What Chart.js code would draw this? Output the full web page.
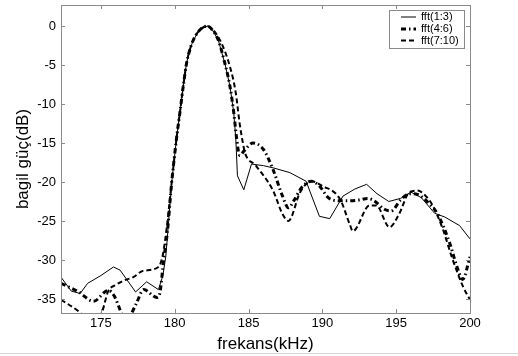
<!DOCTYPE html>
<html>
<head>
<meta charset="utf-8">
<script src="https://cdn.jsdelivr.net/npm/chart.js@4/dist/chart.umd.min.js"></script>
<style>
  html, body { margin: 0; padding: 0; background: #fff; }
  #wrap { width: 518px; height: 356px; }
</style>
</head>
<body>
<div id="wrap"><canvas id="myChart" width="518" height="356"></canvas></div>
<script>
// fft(1:3) - solid
const freq13 = [172.3, 173.0, 173.6, 174.1, 175.0, 175.85, 176.3, 177.35, 178.1, 178.9, 179.2, 179.4, 179.55, 179.8, 180.15, 180.36, 180.58, 180.8, 181.0, 181.26, 181.7, 182.2, 182.55, 182.95, 183.4, 183.74, 184.0, 184.14, 184.25, 184.68, 185.2, 186.0, 186.7, 187.8, 188.9, 189.8, 190.5, 191.4, 192.2, 193.0, 193.7, 194.5, 195.3, 196.0, 196.7, 197.6, 198.3, 199.3, 200.0];
const db13 = [-32.2, -34.0, -34.3, -33.0, -32.0, -30.9, -31.3, -34.1, -32.8, -33.8, -32.0, -29.5, -26.0, -20.0, -14.0, -11.0, -7.7, -4.8, -3.2, -1.8, -0.5, 0, -0.5, -1.8, -4.8, -7.7, -11.1, -14.5, -19.2, -21.0, -17.7, -17.9, -18.2, -18.8, -19.9, -24.4, -24.7, -21.8, -20.9, -20.3, -21.5, -22.5, -22.1, -21.3, -22.0, -24.0, -24.5, -25.6, -27.3];

// fft(4:6) - dash-dot
const freq46 = [172.3, 173.5, 174.5, 175.5, 175.9, 176.4, 176.75, 177.1, 177.4, 177.9, 178.8, 179.0, 179.25, 179.5, 179.8, 180.15, 180.36, 180.58, 180.8, 181.0, 181.26, 181.7, 182.2, 182.55, 182.95, 183.4, 183.74, 184.0, 184.2, 184.4, 184.7, 185.3, 186.0, 186.66, 187.3, 187.7, 188.1, 188.6, 189.26, 189.8, 190.4, 191.2, 191.85, 192.5, 193.06, 193.5, 194.2, 194.66, 195.3, 195.9, 196.45, 197.25, 197.8, 198.6, 199.16, 199.5, 200.0];
const db46 = [-33.0, -34.1, -35.3, -33.9, -34.6, -36.9, -38.5, -36.8, -35.6, -33.8, -34.8, -34.2, -30.0, -26.5, -20.0, -14.0, -11.0, -7.7, -4.8, -3.2, -1.8, -0.5, 0, -0.5, -1.8, -4.8, -7.7, -11.1, -14.5, -16.6, -16.0, -15.0, -15.8, -18.4, -21.8, -23.3, -22.3, -20.7, -19.9, -20.5, -22.0, -22.4, -22.4, -22.3, -22.1, -22.4, -23.5, -23.7, -22.3, -21.5, -21.6, -22.8, -24.1, -27.7, -31.1, -32.5, -29.6];

// fft(7:10) - dashed
const freq710 = [172.3, 173.5, 174.3, 175.05, 175.5, 176.0, 176.6, 177.2, 177.85, 178.9, 179.2, 179.45, 179.8, 180.15, 180.36, 180.58, 180.8, 181.0, 181.26, 181.7, 182.2, 182.6, 183.17, 183.74, 184.14, 184.4, 184.6, 184.75, 185.5, 186.66, 187.3, 187.7, 188.5, 189.26, 190.0, 191.2, 191.85, 192.07, 193.2, 193.65, 194.55, 195.2, 195.9, 196.45, 197.0, 197.47, 198.15, 198.8, 199.5, 200.0];
const db710 = [-35.1, -36.6, -38.0, -36.8, -34.0, -33.2, -32.6, -32.2, -31.4, -30.9, -29.3, -26.0, -20.0, -14.0, -11.0, -7.7, -4.8, -3.2, -1.8, -0.5, 0, -0.5, -2.2, -5.2, -8.6, -12.5, -14.8, -16.2, -17.9, -21.1, -24.1, -25.0, -21.3, -19.9, -20.5, -22.2, -25.4, -26.3, -23.0, -23.0, -25.8, -24.1, -21.3, -21.1, -21.8, -23.0, -26.0, -29.8, -33.3, -35.1];

const xTicks = [175, 180, 185, 190, 195, 200];
const yTicks = [0, -5, -10, -15, -20, -25, -30, -35];

const toPoints = (xs, ys) => xs.map((x, i) => ({ x: x, y: ys[i] }));

const frameColor = '#8a8a8a';

// box round the axes, inward tick marks, the legend box and the grey edge at the bottom
const framePlugin = {
	id: 'frame',
	afterDraw(chart) {
		const ctx = chart.ctx;
		const a = chart.chartArea;
		const xs = chart.scales.x;
		const ys = chart.scales.y;
		ctx.save();
		ctx.strokeStyle = frameColor;
		ctx.lineWidth = 1;
		ctx.setLineDash([]);
		ctx.strokeRect(Math.round(a.left) + 0.5, Math.round(a.top) + 0.5, Math.round(a.right - a.left), Math.round(a.bottom - a.top));
		ctx.beginPath();
		xTicks.forEach(v => {
			const px = Math.round(xs.getPixelForValue(v)) + 0.5;
			ctx.moveTo(px, a.bottom); ctx.lineTo(px, a.bottom - 4);
			ctx.moveTo(px, a.top); ctx.lineTo(px, a.top + 4);
		});
		yTicks.forEach(v => {
			const py = Math.round(ys.getPixelForValue(v)) + 0.5;
			ctx.moveTo(a.left, py); ctx.lineTo(a.left + 4, py);
			ctx.moveTo(a.right, py); ctx.lineTo(a.right - 4, py);
		});
		ctx.stroke();

		// legend
		const lx = 389, ly = 10, lw = 75, lh = 38;
		ctx.fillStyle = '#fff';
		ctx.fillRect(lx, ly, lw, lh);
		ctx.strokeStyle = frameColor;
		ctx.strokeRect(lx + 0.5, ly + 0.5, lw, lh);
		ctx.font = '11px Arial, "Liberation Sans", sans-serif';
		ctx.textBaseline = 'middle';
		ctx.textAlign = 'left';
		const rows = [17, 29, 40.5];
		chart.data.datasets.forEach((ds, i) => {
			ctx.strokeStyle = ds.borderColor;
			ctx.lineWidth = ds.borderWidth;
			ctx.setLineDash(ds.borderDash || []);
			ctx.beginPath();
			ctx.moveTo(401, rows[i]);
			ctx.lineTo(416, rows[i]);
			ctx.stroke();
			ctx.fillStyle = '#000';
			ctx.fillText(ds.label, 421, rows[i]);
		});

		ctx.setLineDash([]);
		ctx.strokeStyle = '#d6d6d6';
		ctx.lineWidth = 1;
		ctx.beginPath();
		ctx.moveTo(0, 353.5);
		ctx.lineTo(chart.width, 353.5);
		ctx.stroke();
		ctx.restore();
	}
};

Chart.defaults.font.family = 'Arial, "Liberation Sans", sans-serif';
Chart.defaults.color = '#000';

const config = {
	type: 'line',
	data: {
		datasets: [{
			label: 'fft(1:3)',
			data: toPoints(freq13, db13),
			borderColor: '#000',
			borderWidth: 1,
			tension: 0,
			pointRadius: 0,
			clip: 0
		}, {
			label: 'fft(4:6)',
			data: toPoints(freq46, db46),
			borderColor: '#000',
			borderWidth: 3,
			borderDash: [5, 3, 1.5, 3],
			cubicInterpolationMode: 'monotone',
			pointRadius: 0,
			clip: 0
		}, {
			label: 'fft(7:10)',
			data: toPoints(freq710, db710),
			borderColor: '#000',
			borderWidth: 2,
			borderDash: [5, 3],
			cubicInterpolationMode: 'monotone',
			pointRadius: 0,
			clip: 0
		}]
	},
	options: {
		responsive: false,
		devicePixelRatio: 1,
		animation: false,
		layout: { padding: { top: 5, right: 48, left: 0, bottom: 0 } },
		plugins: {
			legend: { display: false },
			tooltip: { enabled: false }
		},
		scales: {
			x: {
				type: 'linear',
				min: 172.3,
				max: 200,
				grid: { display: false, drawTicks: false },
				border: { display: false },
				afterBuildTicks: scale => { scale.ticks = xTicks.map(v => ({ value: v })); },
				afterFit: scale => { scale.height = 43; scale.paddingLeft = 0; scale.paddingRight = 0; },
				ticks: { padding: 3, font: { size: 13 }, color: '#000' },
				title: { display: true, text: 'frekans(kHz)', font: { size: 17 }, color: '#000', padding: { top: 0, bottom: 1 } }
			},
			y: {
				min: -36.8,
				max: 2.7,
				grid: { display: false, drawTicks: false },
				border: { display: false },
				afterBuildTicks: scale => { scale.ticks = yTicks.map(v => ({ value: v })); },
				afterFit: scale => { scale.width = 61; scale.paddingTop = 0; scale.paddingBottom = 0; },
				ticks: { padding: 5, font: { size: 13 }, color: '#000', callback: v => String(v) },
				title: { display: true, text: 'bagil güç(dB)', font: { size: 17 }, color: '#000', padding: { top: 13, bottom: 0 } }
			}
		}
	},
	plugins: [framePlugin]
};

const myChart = new Chart(document.getElementById('myChart'), config);
</script>
</body>
</html>
